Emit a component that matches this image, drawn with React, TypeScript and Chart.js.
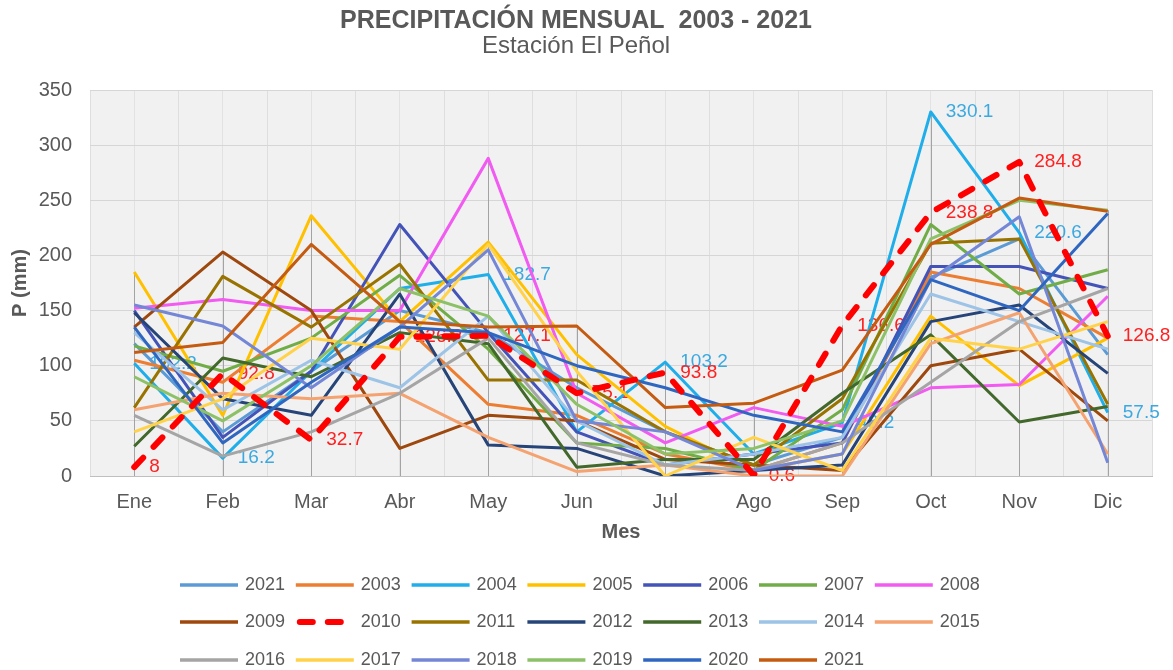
import React, { useEffect, useRef } from "react";
import { Chart, registerables } from "chart.js";

Chart.register(...registerables);

const FONT = "'Liberation Sans', Arial, sans-serif";
const TEXT = "#595959";

// Categories
const months = ["Ene", "Feb", "Mar", "Abr", "May", "Jun", "Jul", "Ago", "Sep", "Oct", "Nov", "Dic"];

// Series (monthly precipitation, mm)
const p2021a = [120, 40, 95, 150, 130, 80, 40, 10, 35, 180, 215, 110];
const p2003 = [105, 85, 145, 140, 65, 55, 20, 5, 30, 185, 170, 125];
const p2004 = [102.2, 16.2, 95, 170, 182.7, 40, 103.2, 20, 48.2, 330.1, 220.6, 57.5];
const p2005 = [185, 55, 236, 140, 212, 110, 45, 5, 20, 145, 82, 125];
const p2006 = [150, 35, 95, 228, 130, 40, 10, 20, 30, 190, 190, 170];
const p2007 = [118, 95, 125, 182, 115, 30, 25, 5, 60, 228, 165, 187];
const p2008 = [152, 160, 150, 150, 288, 75, 30, 62, 45, 80, 83, 163];
const p2009 = [135, 203, 150, 25, 55, 50, 15, 10, 5, 100, 115, 50];
const p2010 = [8, 92.8, 32.7, 126.2, 127.1, 75.1, 93.8, 0.6, 136.6, 238.8, 284.8, 126.8];
const p2011 = [62, 181, 135, 192, 87, 87, 40, 10, 70, 211, 215, 65];
const p2012 = [148, 70, 55, 165, 28, 25, 0, 5, 10, 140, 155, 93];
const p2013 = [27, 107, 90, 130, 120, 8, 15, 15, 75, 128, 49, 63];
const p2014 = [130, 60, 105, 80, 145, 50, 10, 20, 35, 165, 140, 115];
const p2015 = [60, 75, 70, 75, 35, 4, 10, 0, 0, 120, 148, 20];
const p2016 = [55, 18, 40, 75, 125, 30, 10, 5, 30, 85, 140, 170];
const p2017 = [40, 70, 125, 115, 210, 95, 0, 35, 5, 125, 115, 140];
const p2018 = [155, 136, 80, 135, 205, 50, 40, 5, 20, 178, 235, 12];
const p2019 = [90, 50, 100, 170, 145, 65, 20, 25, 50, 215, 250, 241];
const p2020 = [135, 30, 85, 135, 130, 100, 80, 55, 40, 178, 150, 238];
const p2021b = [112, 121, 210, 140, 135, 136, 62, 66, 96, 210, 252, 240];

const seriesLabels = ["2021", "2003", "2004", "2005", "2006", "2007", "2008", "2009", "2010", "2011",
  "2012", "2013", "2014", "2015", "2016", "2017", "2018", "2019", "2020", "2021"];
const seriesValues = [p2021a, p2003, p2004, p2005, p2006, p2007, p2008, p2009, p2010, p2011,
  p2012, p2013, p2014, p2015, p2016, p2017, p2018, p2019, p2020, p2021b];
const seriesColors = ["#5B9BD5", "#ED7D31", "#1FAEEA", "#FFC000", "#4453B8", "#70AD47", "#F25BF2", "#9E480E", "#FF0000", "#997300",
  "#264478", "#43682B", "#9DC3E6", "#F4A26F", "#A5A5A5", "#FFD24A", "#7486D6", "#8CC168", "#2F67C0", "#C55A11"];

const DASHED = 8; // index of 2010
// Which points carry data labels (by series index)
const labeledPoints: Record<number, number[]> = {
  2: [0, 1, 4, 6, 8, 9, 10, 11],
  8: [0, 1, 2, 3, 4, 5, 6, 7, 8, 9, 10, 11],
};

const plotBg = {
  id: "plotBg",
  beforeDraw(chart: any) {
    const { ctx, chartArea: a } = chart;
    ctx.save();
    ctx.fillStyle = "#f1f1f1";
    ctx.fillRect(a.left, a.top, a.right - a.left, a.bottom - a.top);
    ctx.restore();
  },
};

const dropLines = {
  id: "dropLines",
  beforeDatasetsDraw(chart: any) {
    const { ctx } = chart;
    const xs = chart.scales.x;
    const ys = chart.scales.y;
    const n = chart.data.labels.length;
    ctx.save();
    ctx.strokeStyle = "#a3a3a3";
    ctx.lineWidth = 1;
    for (let i = 0; i < n; i++) {
      const mx = Math.max(...chart.data.datasets.map((d: any) => d.data[i]));
      const px = Math.round(xs.getPixelForValue(i)) + 0.5;
      ctx.beginPath();
      ctx.moveTo(px, ys.getPixelForValue(mx));
      ctx.lineTo(px, ys.getPixelForValue(0));
      ctx.stroke();
    }
    ctx.restore();
  },
};

const pointLabels = {
  id: "pointLabels",
  beforeDatasetsDraw(chart: any) {
    const { ctx } = chart;
    ctx.save();
    ctx.font = `19px ${FONT}`;
    ctx.textAlign = "left";
    ctx.textBaseline = "middle";
    Object.keys(labeledPoints).forEach((k) => {
      const di = Number(k);
      const meta = chart.getDatasetMeta(di);
      const ds = chart.data.datasets[di];
      ctx.fillStyle = di === DASHED ? "#FF2020" : "#3BA9E0";
      labeledPoints[di].forEach((pi) => {
        const el = meta.data[pi];
        if (!el) return;
        ctx.fillText(String(ds.data[pi]), el.x + 15, el.y);
      });
    });
    ctx.restore();
  },
};

const gridLegend = {
  id: "gridLegend",
  afterDraw(chart: any) {
    const { ctx } = chart;
    const rowsY = [585, 622, 660];
    const startX = 180;
    const pitch = 115.8;
    const perRow = 7;
    ctx.save();
    ctx.font = `18px ${FONT}`;
    ctx.textAlign = "left";
    ctx.textBaseline = "middle";
    chart.data.datasets.forEach((ds: any, i: number) => {
      const row = Math.floor(i / perRow);
      const col = i % perRow;
      const x0 = startX + col * pitch;
      const y = rowsY[row];
      ctx.strokeStyle = ds.borderColor;
      if (i === DASHED) {
        ctx.lineWidth = 6;
        ctx.lineCap = "round";
        ctx.setLineDash([13, 15]);
        ctx.beginPath();
        ctx.moveTo(x0 + 4, y);
        ctx.lineTo(x0 + 50, y);
        ctx.stroke();
      } else {
        ctx.lineWidth = 3.5;
        ctx.lineCap = "butt";
        ctx.setLineDash([]);
        ctx.beginPath();
        ctx.moveTo(x0, y);
        ctx.lineTo(x0 + 58, y);
        ctx.stroke();
      }
      ctx.setLineDash([]);
      ctx.fillStyle = TEXT;
      ctx.fillText(ds.label, x0 + 65, y);
    });
    ctx.restore();
  },
};

export default function App() {
  const ref = useRef<HTMLCanvasElement | null>(null);

  useEffect(() => {
    document.body.style.margin = "0";
    if (!ref.current) return;
    const datasets = seriesLabels.map((lab, i) => ({
      label: lab,
      data: seriesValues[i],
      borderColor: seriesColors[i],
      backgroundColor: seriesColors[i],
      borderWidth: i === DASHED ? 6 : 3,
      borderDash: i === DASHED ? [13, 15] : [],
      borderCapStyle: i === DASHED ? "round" : "butt",
      borderJoinStyle: "round",
      pointRadius: 0,
      pointHoverRadius: 0,
      tension: 0,
      fill: false,
      order: i === DASHED ? -1 : 20 - i,
    }));

    const chart = new Chart(ref.current, {
      type: "line",
      data: { labels: months, datasets: datasets as any },
      plugins: [plotBg, dropLines, pointLabels, gridLegend],
      options: {
        animation: false,
        responsive: true,
        maintainAspectRatio: false,
        layout: { padding: { left: 0, right: 21, top: 0, bottom: 126 } },
        plugins: {
          legend: { display: false },
          tooltip: { enabled: false },
          title: {
            display: true,
            text: "PRECIPITACIÓN MENSUAL  2003 - 2021",
            color: TEXT,
            font: { size: 25, weight: "bold", family: FONT, lineHeight: 1 },
            padding: { top: 9, bottom: 0 },
          },
          subtitle: {
            display: true,
            text: "Estación El Peñol",
            color: TEXT,
            font: { size: 24, family: FONT, lineHeight: 1 },
            padding: { top: 0, bottom: 32 },
          },
        },
        scales: {
          x: {
            type: "category",
            offset: true,
            grid: { offset: true, color: "#dedede", drawTicks: false },
            border: { display: true, color: "#bfbfbf", width: 1 },
            ticks: { color: TEXT, font: { size: 20, family: FONT }, padding: 14, maxRotation: 0, autoSkip: false },
            title: {
              display: true,
              text: "Mes",
              color: TEXT,
              font: { size: 20, weight: "bold", family: FONT },
              padding: { top: 0, bottom: 0 },
            },
            afterFit(scale: any) {
              scale.height = 68;
            },
          },
          x2: {
            type: "category",
            position: "top",
            offset: true,
            grid: { offset: false, color: "#e2e2e2", drawTicks: false },
            border: { display: false },
            ticks: { display: false },
          },
          y: {
            min: 0,
            max: 350,
            ticks: { stepSize: 50, color: TEXT, font: { size: 20, family: FONT }, padding: 18 },
            grid: { color: "#d6d6d6", drawTicks: false },
            border: { display: false },
            title: {
              display: true,
              text: "P (mm)",
              color: TEXT,
              font: { size: 20, weight: "bold", family: FONT },
              padding: { top: 8, bottom: 0 },
            },
            afterFit(scale: any) {
              scale.width = 90;
            },
          },
        },
      } as any,
    });
    return () => chart.destroy();
  }, []);

  return (
    <div style={{ width: 1173, height: 670, position: "relative" }}>
      <canvas ref={ref} />
    </div>
  );
}
